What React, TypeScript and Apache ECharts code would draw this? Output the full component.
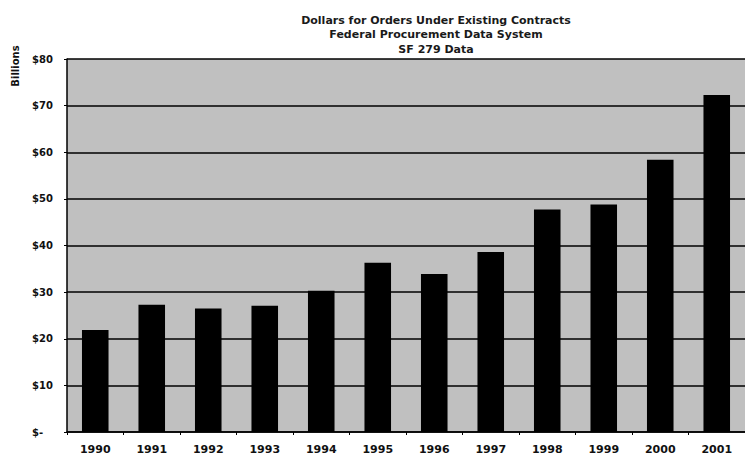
import React, { useEffect, useRef } from "react";
import * as echarts from "echarts";

const titleLines = [
  "Dollars for Orders Under Existing Contracts",
  "Federal Procurement Data System",
  "SF 279 Data",
];
const years = ["1990", "1991", "1992", "1993", "1994", "1995", "1996", "1997", "1998", "1999", "2000", "2001"];
const orders = [21.9, 27.3, 26.5, 27.1, 30.3, 36.3, 33.9, 38.6, 47.7, 48.8, 58.4, 72.3];
const yTicks = [0, 10, 20, 30, 40, 50, 60, 70, 80];
const yUnit = "Billions";

const FONT = "DejaVu Sans";

export default function App() {
  const ref = useRef<HTMLDivElement>(null);
  useEffect(() => {
    if (!ref.current) return;
    const chart = echarts.init(ref.current, null, { renderer: "svg" });
    chart.setOption({
      animation: false,
      backgroundColor: "#ffffff",
      title: {
        text: titleLines.join("\n"),
        left: 431,
        top: 8,
        textAlign: "center",
        textStyle: {
          fontFamily: FONT,
          fontSize: 11,
          fontWeight: "bold",
          color: "#1a1a1a",
          lineHeight: 14.5,
        },
      },
      graphic: [
        {
          type: "text",
          x: 15,
          y: 66,
          rotation: Math.PI / 2,
          style: {
            text: yUnit,
            fontFamily: FONT,
            fontSize: 10,
            fontWeight: "bold",
            fill: "#111",
            align: "center",
            verticalAlign: "middle",
          },
        },
      ],
      grid: {
        left: 67,
        top: 59,
        width: 687,
        height: 373,
        show: true,
        backgroundColor: "#c0c0c0",
        borderWidth: 0,
      },
      xAxis: {
        type: "category",
        data: years,
        axisLine: { show: true, lineStyle: { color: "#000", width: 1.5 } },
        axisTick: { show: true, alignWithLabel: false, length: 3, lineStyle: { color: "#000" } },
        axisLabel: {
          fontFamily: FONT,
          fontSize: 11,
          fontWeight: "bold",
          color: "#111",
          margin: 12,
        },
      },
      yAxis: {
        type: "value",
        min: yTicks[0],
        max: yTicks[yTicks.length - 1],
        interval: 10,
        axisLine: { show: true, lineStyle: { color: "#000", width: 1.5 } },
        axisTick: { show: true, length: 3, lineStyle: { color: "#000" } },
        splitLine: { show: true, lineStyle: { color: "#000", width: 1.6 } },
        axisLabel: {
          fontFamily: FONT,
          fontSize: 10,
          fontWeight: "bold",
          color: "#111",
          align: "left",
          margin: 35,
          formatter: (v: number) => (v === 0 ? "$-" : "$" + v),
        },
      },
      series: [
        {
          type: "bar",
          data: orders,
          barWidth: "47%",
          itemStyle: { color: "#000" },
        },
      ],
    });
    return () => chart.dispose();
  }, []);
  return (
    <div
      ref={ref}
      style={{ position: "fixed", left: 0, top: 0, width: 745, height: 460 }}
    />
  );
}
